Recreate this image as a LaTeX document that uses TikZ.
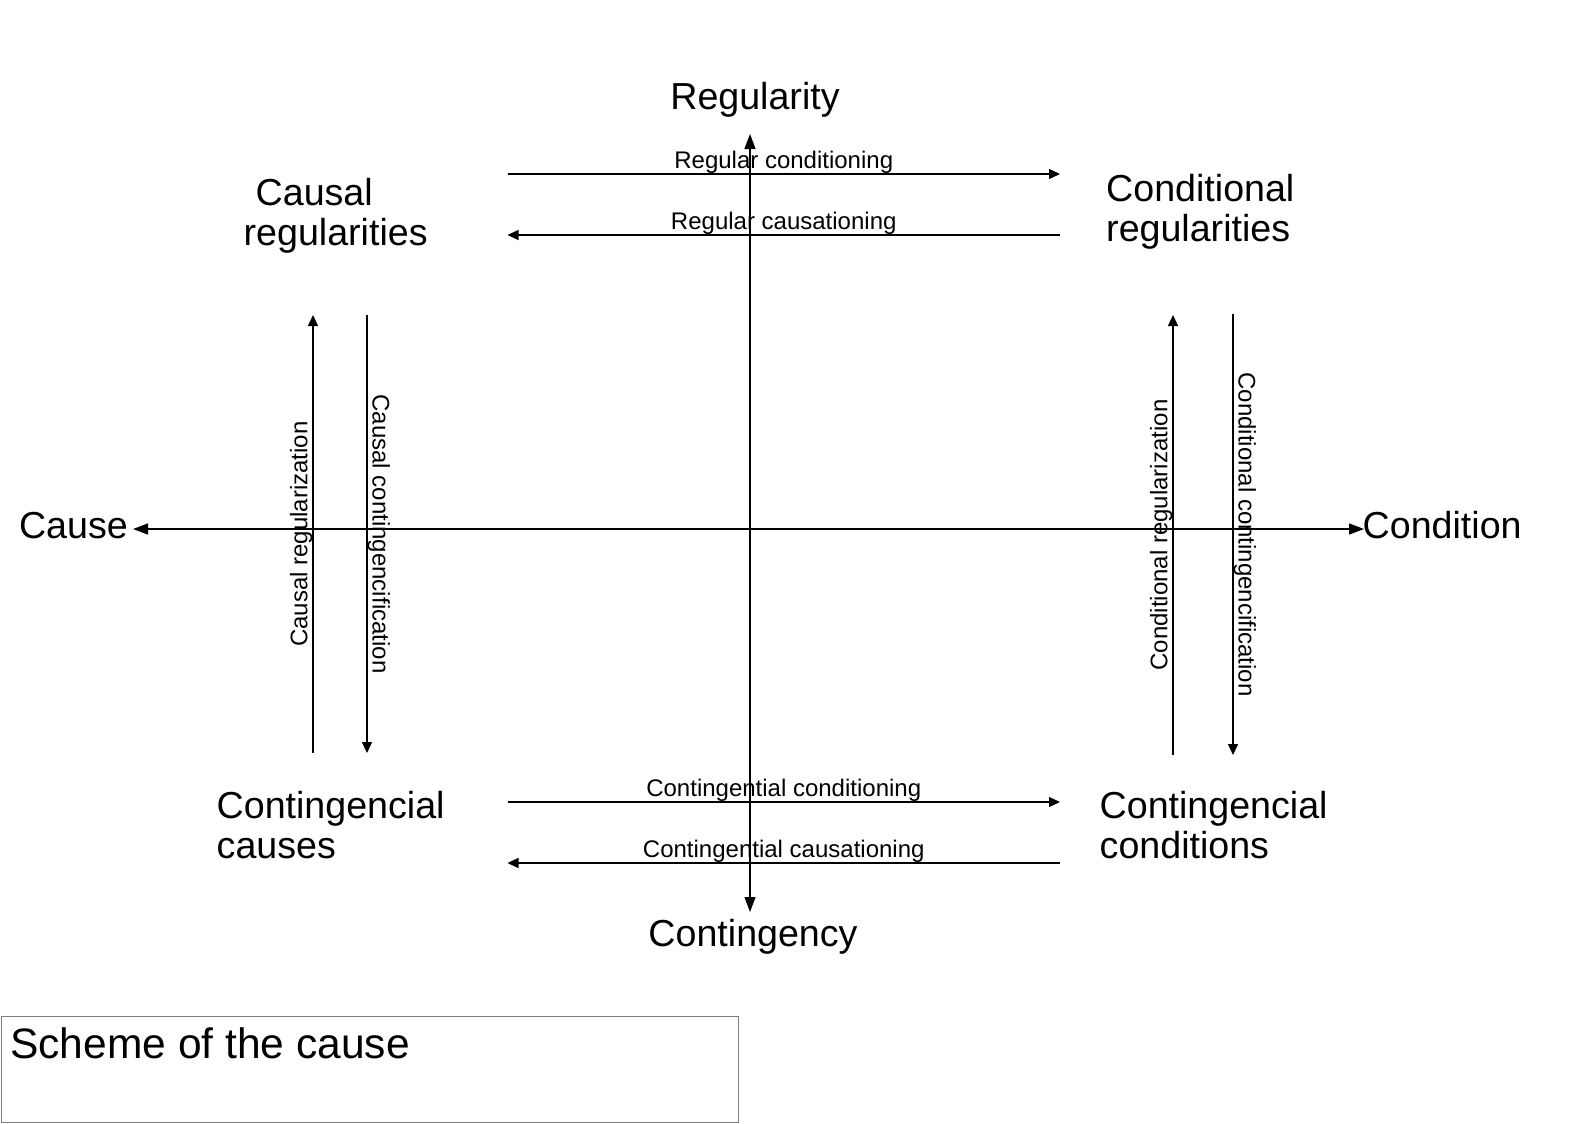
\documentclass[tikz,border=0pt]{standalone}
\usepackage{fontspec}
\setmainfont{Liberation Sans}
\usetikzlibrary{arrows.meta}

\begin{document}
\begin{tikzpicture}
    \useasboundingbox (0,0) rectangle (31.76,-22.46);
    \begin{scope}[every node/.style={font=\fontsize{21.4}{23}\selectfont}]
      \node[anchor=base] (reg) at (15.1,-2.19) {Regularity};
      \node[anchor=base] (cont) at (15.06,-18.92) {Contingency};
      \node[anchor=base east] (cause) at (2.68,-10.76) {Cause};
      \node[anchor=base west] (cond) at (27.13,-10.76) {Condition};
      \node[anchor=west,align=left] (creg) at (4.75,-4.32) {\hspace*{0.24cm}Causal\\regularities};
      \node[anchor=west,align=left] (dreg) at (22.0,-4.24) {Conditional\\regularities};
      \node[anchor=west,align=left] (ccau) at (4.21,-16.5) {Contingencial\\causes};
      \node[anchor=west,align=left] (ccon) at (21.87,-16.5) {Contingencial\\conditions};
    \end{scope}
    \node[draw=gray,minimum width=14.74cm,minimum height=2.12cm,anchor=north west,inner sep=0pt] (box) at (0.02,-20.32) {};
    \node[anchor=base west,inner sep=0pt,font=\fontsize{24.2}{28}\selectfont] (title) at (0.2,-21.16) {Scheme of the cause};
    \coordinate (xl) at (2.66,-10.58);
    \coordinate (xr) at (27.28,-10.58);
    \coordinate (yt) at (15,-2.68);
    \coordinate (yb) at (15,-18.24);
    \coordinate (rc1) at (10.15,-3.48);
    \coordinate (rc2) at (21.2,-3.48);
    \coordinate (ra1) at (10.15,-4.7);
    \coordinate (ra2) at (21.2,-4.7);
    \coordinate (cc1) at (10.15,-16.04);
    \coordinate (cc2) at (21.2,-16.04);
    \coordinate (ca1) at (10.15,-17.26);
    \coordinate (ca2) at (21.2,-17.26);
    \coordinate (cr1) at (6.26,-15.06);
    \coordinate (cr2) at (6.26,-6.3);
    \coordinate (cg1) at (7.34,-6.3);
    \coordinate (cg2) at (7.34,-15.06);
    \coordinate (dr1) at (23.46,-15.1);
    \coordinate (dr2) at (23.46,-6.3);
    \coordinate (dg1) at (24.66,-6.28);
    \coordinate (dg2) at (24.66,-15.1);
    \begin{scope}[every edge/.style={draw=black,line width=0.7pt},
                  every node/.style={font=\fontsize{13.66}{16}\selectfont,inner sep=0pt},
                  >={Triangle[length=0.22cm,width=0.2cm]}]
      \path (xl) edge[<->,>={Triangle[length=0.3cm,width=0.22cm]}] (xr);
      \path (yb) edge[<->,>={Triangle[length=0.3cm,width=0.22cm]}] (yt);
      \path (rc1) edge[->] node[above] {Regular conditioning} (rc2);
      \path (ra2) edge[->] node[above] {Regular causationing} (ra1);
      \path (cc1) edge[->] node[above] {Contingential conditioning} (cc2);
      \path (ca2) edge[->] node[above] {Contingential causationing} (ca1);
      \path (cr1) edge[->] node[above,sloped] {Causal regularization} (cr2);
      \path (cg1) edge[->] node[above,sloped] {Causal contingencification} (cg2);
      \path (dr1) edge[->] node[above,sloped] {Conditional regularization} (dr2);
      \path (dg1) edge[->] node[above,sloped] {Conditional contingencification} (dg2);
    \end{scope}
\end{tikzpicture}
\end{document}
